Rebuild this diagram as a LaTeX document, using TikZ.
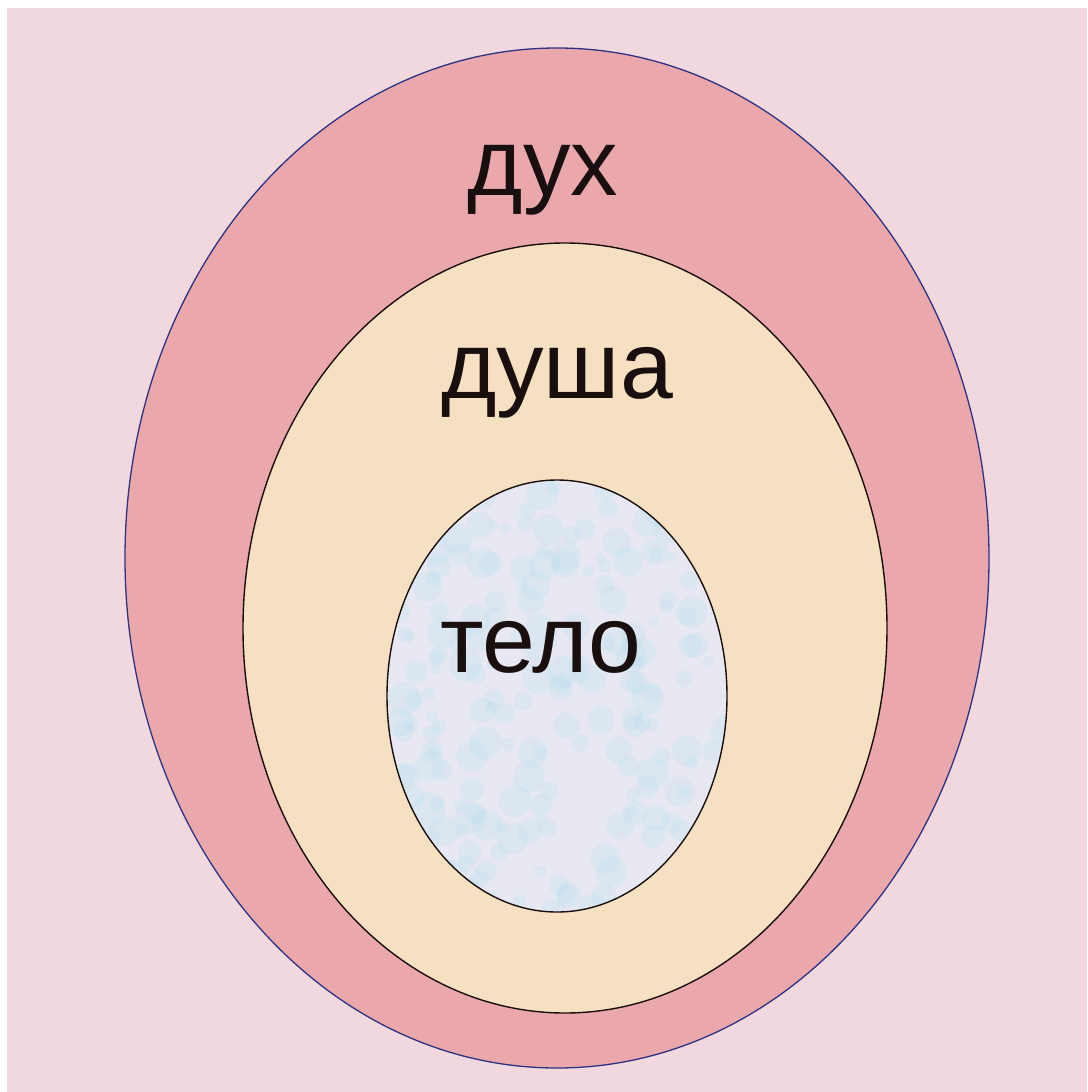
\documentclass[tikz,border=0pt]{standalone}
\usepackage{fontspec}
\setmainfont{Liberation Sans}
\definecolor{bgpink}{RGB}{240,216,222}
\definecolor{ringred}{RGB}{235,168,172}
\definecolor{cream}{RGB}{246,224,194}
\definecolor{bodyblue}{RGB}{232,232,243}
\definecolor{speck}{RGB}{170,222,236}
\definecolor{outerline}{RGB}{45,50,130}
\definecolor{inkblack}{RGB}{25,15,15}
\begin{document}
\begin{tikzpicture}[x=1pt,y=-1pt,
  lbl/.style={font=\fontsize{95}{110}\selectfont, text=inkblack, anchor=base, inner sep=0pt}]
\useasboundingbox (0,0) rectangle (1087,1092);
\fill[white] (0,0) rectangle (1087,1092);
\fill[bgpink] (7,8) rectangle (1087,1092);
% outer ellipse: spirit
\path[fill=ringred, draw=outerline, line width=1.3pt] (557,558) ellipse [x radius=432, y radius=510];
% middle ellipse: soul
\path[fill=cream, draw=inkblack, line width=1.4pt] (565,628) ellipse [x radius=322, y radius=385];
% inner ellipse: body
\begin{scope}
  \clip (557,696) ellipse [x radius=170, y radius=216];
  \fill[bodyblue] (387,480) rectangle (728,912);
  \pgfmathsetseed{7}
  \foreach \i in {1,...,220}{
    \pgfmathsetmacro{\px}{387+rnd*341}
    \pgfmathsetmacro{\py}{480+rnd*432}
    \pgfmathsetmacro{\pr}{5+rnd*12}
    \fill[speck, opacity=0.18] (\px,\py) circle [radius=\pr];
  }
\end{scope}
\draw[inkblack, line width=1.4pt] (557,696) ellipse [x radius=170, y radius=216];
\node[lbl] (dukh) at (543,195) {дух};
\node[lbl] (dusha) at (557,398) {душа};
\node[lbl] (telo) at (541,672) {тело};
\end{tikzpicture}
\end{document}
